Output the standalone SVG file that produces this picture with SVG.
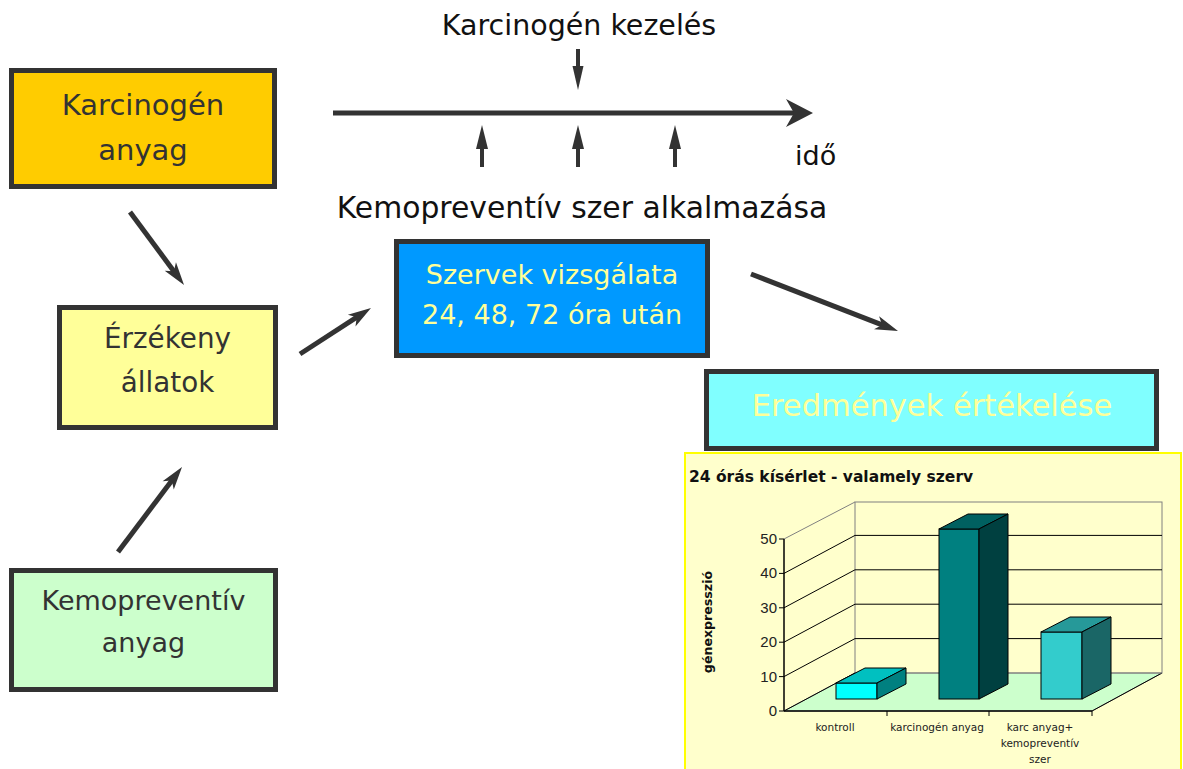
<svg xmlns="http://www.w3.org/2000/svg" width="1183" height="769" viewBox="0 0 1183 769">
  <defs>
    <style>
      .box { stroke: #333333; stroke-width: 5; }
      .lbl { font-family: "DejaVu Sans", "Liberation Sans", sans-serif; font-size: 27px; fill: #333333; text-anchor: middle; }
      .lbl-y { font-family: "DejaVu Sans", "Liberation Sans", sans-serif; font-size: 27px; fill: #FFFF99; text-anchor: middle; }
      .cap { font-family: "DejaVu Sans", "Liberation Sans", sans-serif; fill: #111111; }
      .link { stroke: #333333; stroke-width: 5; fill: none; marker-end: url(#head); }
      .grid { stroke: #000000; stroke-width: 1; fill: none; }
      .wall { stroke: #808080; stroke-width: 1; fill: none; }
      .bar { stroke: #000000; stroke-width: 1; }
      .axn { font-family: "Liberation Sans", Arial, sans-serif; font-size: 15px; fill: #222222; text-anchor: end; }
      .cat { font-family: "DejaVu Sans", "Liberation Sans", sans-serif; font-size: 10.5px; fill: #222222; text-anchor: middle; }
    </style>
    <!-- notched arrowhead; refX puts the shaft end inside the head -->
    <marker id="head" viewBox="-24 -8 26 16" refX="-15" refY="0" markerWidth="26" markerHeight="16" markerUnits="userSpaceOnUse" orient="auto">
      <path d="M0,0 L-23,-7 L-17,0 L-23,7 Z" fill="#333333"/>
    </marker>
  </defs>

  <rect width="1183" height="769" fill="#FFFFFF"/>

  <!-- time axis -->
  <g id="timeline">
    <line x1="333" y1="113" x2="800" y2="113" stroke="#333333" stroke-width="5"/>
    <path d="M813,113 L786,99 L794,113 L786,127 Z" fill="#333333"/>
    <!-- carcinogen dose -->
    <line x1="578" y1="49" x2="578" y2="70" stroke="#333333" stroke-width="4"/>
    <path d="M578,90 L572.5,66 L583.5,66 Z" fill="#333333"/>
    <!-- chemopreventive doses -->
    <line x1="482" y1="167" x2="482" y2="145" stroke="#333333" stroke-width="4"/>
    <path d="M482,125 L476,149 L488,149 Z" fill="#333333"/>
    <line x1="578" y1="167" x2="578" y2="145" stroke="#333333" stroke-width="4"/>
    <path d="M578,125 L572,149 L584,149 Z" fill="#333333"/>
    <line x1="675" y1="167" x2="675" y2="145" stroke="#333333" stroke-width="4"/>
    <path d="M675,125 L669,149 L681,149 Z" fill="#333333"/>
    <text class="cap" x="579" y="35" font-size="28.5" text-anchor="middle">Karcinogén kezelés</text>
    <text class="cap" x="795" y="165" font-size="27" fill="#333333">idő</text>
    <text class="cap" x="582" y="218" font-size="29.8" text-anchor="middle">Kemopreventív szer alkalmazása</text>
  </g>

  <g id="karcinogen">
    <rect class="box" x="11.5" y="70.5" width="263" height="116" fill="#FFCC00"/>
    <text class="lbl" x="143" y="115" style="font-size:29px">Karcinogén</text>
    <text class="lbl" x="143" y="160" style="font-size:29px">anyag</text>
  </g>

  <g id="erzekeny">
    <rect class="box" x="59.5" y="307.5" width="216" height="120" fill="#FFFF99"/>
    <text class="lbl" x="167.5" y="348" style="font-size:27.8px">Érzékeny</text>
    <text class="lbl" x="167.5" y="392" style="font-size:27.8px">állatok</text>
  </g>

  <g id="kemopreventiv">
    <rect class="box" x="11.5" y="570.5" width="264" height="119" fill="#CCFFCC"/>
    <text class="lbl" x="143.5" y="610">Kemopreventív</text>
    <text class="lbl" x="143.5" y="652">anyag</text>
  </g>

  <g id="szervek">
    <rect class="box" x="396.5" y="241.5" width="311" height="114" fill="#0099FF"/>
    <text class="lbl-y" x="552" y="284">Szervek vizsgálata</text>
    <text class="lbl-y" x="552" y="324">24, 48, 72 óra után</text>
  </g>

  <g id="eredmenyek">
    <rect class="box" x="706.5" y="371.5" width="450" height="77" fill="#80FFFF"/>
    <text class="lbl-y" x="932" y="416" style="font-size:30.5px">Eredmények értékelése</text>
  </g>

  <g id="connectors">
    <line class="link" x1="130" y1="212" x2="175.1" y2="272.9"/>
    <line class="link" x1="300" y1="354" x2="358.4" y2="316.2"/>
    <line class="link" x1="118" y1="552" x2="173" y2="479"/>
    <line class="link" x1="751" y1="274" x2="884" y2="325.6"/>
  </g>

  <!-- 3D column chart -->
  <g id="chart">
    <rect x="685" y="453" width="496" height="330" fill="#FFFFCC" stroke="#FFFF00" stroke-width="2"/>
    <text class="cap" x="689" y="482" font-size="15.5" font-weight="bold">24 órás kísérlet - valamely szerv</text>

    <!-- floor -->
    <polygon points="784,711 855,673 1162,673 1092,711" fill="#CCFFCC" stroke="#808080" stroke-width="1"/>
    <line x1="1092" y1="711" x2="1162" y2="673" class="grid"/>

    <!-- back wall and gridlines -->
    <rect x="855" y="502" width="307" height="171" class="wall"/>
    <line class="grid" x1="855" y1="535.4" x2="1162" y2="535.4"/>
    <line class="grid" x1="855" y1="569.8" x2="1162" y2="569.8"/>
    <line class="grid" x1="855" y1="604.2" x2="1162" y2="604.2"/>
    <line class="grid" x1="855" y1="638.6" x2="1162" y2="638.6"/>

    <!-- side wall diagonals -->
    <line class="wall" x1="784" y1="539" x2="855" y2="502"/>
    <line class="grid" x1="784" y1="573.4" x2="855" y2="535.4"/>
    <line class="grid" x1="784" y1="607.8" x2="855" y2="569.8"/>
    <line class="grid" x1="784" y1="642.2" x2="855" y2="604.2"/>
    <line class="grid" x1="784" y1="676.6" x2="855" y2="638.6"/>
    <line class="grid" x1="784" y1="711" x2="855" y2="673"/>

    <!-- value axis -->
    <line x1="784" y1="539" x2="784" y2="711" stroke="#000000" stroke-width="1.5"/>
    <path class="grid" d="M779,539 H784 M779,573.4 H784 M779,607.8 H784 M779,642.2 H784 M779,676.6 H784 M779,711 H784"/>
    <text class="axn" x="777" y="544">50</text>
    <text class="axn" x="777" y="578">40</text>
    <text class="axn" x="777" y="613">30</text>
    <text class="axn" x="777" y="647">20</text>
    <text class="axn" x="777" y="682">10</text>
    <text class="axn" x="777" y="716">0</text>

    <!-- category axis -->
    <line x1="784" y1="711" x2="1092" y2="711" stroke="#000000" stroke-width="1.5"/>
    <path class="grid" d="M887,711 V716 M989,711 V716 M1092,711 V716"/>

    <!-- kontroll -->
    <rect class="bar" x="836" y="683" width="41" height="16" fill="#00FFFF"/>
    <polygon class="bar" points="836,683 865,668 906,668 877,683" fill="#00C0C0"/>
    <polygon class="bar" points="877,683 906,668 906,684 877,699" fill="#008080"/>

    <!-- karcinogén anyag -->
    <rect class="bar" x="939" y="529" width="40" height="170" fill="#008080"/>
    <polygon class="bar" points="939,529 968,514 1008,514 979,529" fill="#006060"/>
    <polygon class="bar" points="979,529 1008,514 1008,684 979,699" fill="#004040"/>

    <!-- karc anyag + kemopreventív szer -->
    <rect class="bar" x="1041" y="632" width="41" height="67" fill="#33CCCC"/>
    <polygon class="bar" points="1041,632 1070,617 1111,617 1082,632" fill="#269999"/>
    <polygon class="bar" points="1082,632 1111,617 1111,684 1082,699" fill="#1A6666"/>

    <text class="cat" x="835" y="731">kontroll</text>
    <text class="cat" x="937" y="731">karcinogén anyag</text>
    <text class="cat" x="1040" y="731">karc anyag+</text>
    <text class="cat" x="1040" y="747">kemopreventív</text>
    <text class="cat" x="1040" y="763">szer</text>

    <text class="cap" x="0" y="0" font-size="12.6" font-weight="bold" text-anchor="middle" transform="translate(712,622) rotate(-90)">génexpresszió</text>
  </g>
</svg>
